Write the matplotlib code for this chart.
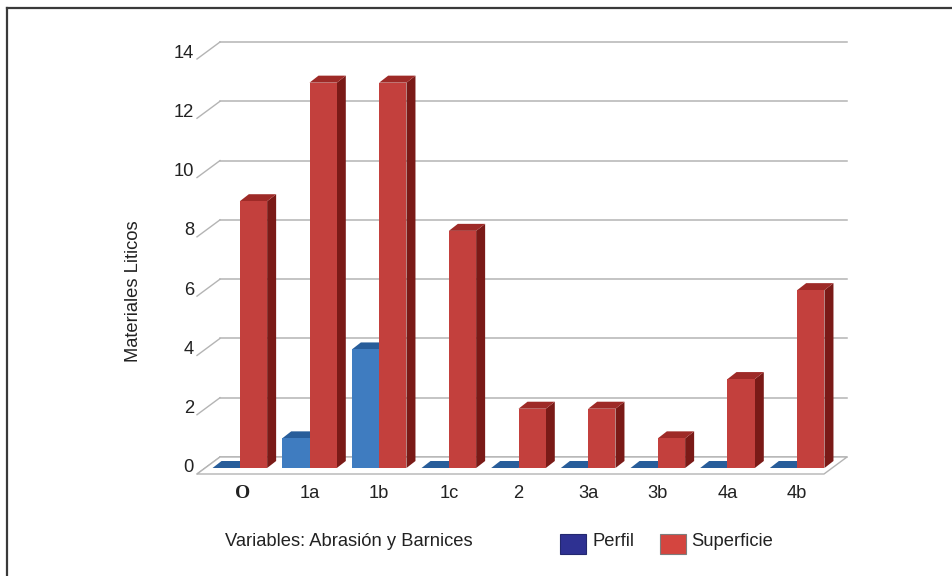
import matplotlib
matplotlib.use("Agg")
import matplotlib.pyplot as plt
from matplotlib.patches import Polygon, Rectangle
from matplotlib.lines import Line2D
from matplotlib.transforms import offset_copy

# ---- data ----
categories = ["O", "1a", "1b", "1c", "2", "3a", "3b", "4a", "4b"]
perfil = [0, 1, 4, 0, 0, 0, 0, 0, 0]
superficie = [9, 13, 13, 8, 2, 2, 1, 3, 6]
yticks = [0, 2, 4, 6, 8, 10, 12, 14]

# ---- figure geometry (pixels) ----
W, H = 952, 576
fig = plt.figure(figsize=(W / 100, H / 100), dpi=100)
fig.patch.set_facecolor("white")

ax_l, ax_r, ax_b, ax_t = 197, 824, 474, 59   # front plane of chart in px
ax = fig.add_axes([ax_l / W, 1 - ax_b / H, (ax_r - ax_l) / W, (ax_b - ax_t) / H])
ax.set_xlim(-0.5, len(categories) - 0.5)
ax.set_ylim(0, 14)
ax.axis("off")

PXX = (ax_r - ax_l) / len(categories)   # px per x unit
PXY = (ax_b - ax_t) / 14.0              # px per y unit

WALL_DX, WALL_DY = 23 / PXX, 17 / PXY
BAR_OX, BAR_OY = 8 / PXX, 6 / PXY
BAR_DX, BAR_DY = 9 / PXX, 7 / PXY
BW = 27.3 / PXX

grid_c = "#b4b4b4"
x0, x1 = -0.5, len(categories) - 0.5

# back wall gridlines + left diagonals
for v in yticks:
    ax.plot([x0 + WALL_DX, x1 + WALL_DX], [v + WALL_DY, v + WALL_DY],
            color=grid_c, lw=1.1, clip_on=False, zorder=1)
    ax.plot([x0, x0 + WALL_DX], [v, v + WALL_DY], color=grid_c, lw=1.0,
            clip_on=False, zorder=1)
# floor
ax.add_patch(Polygon([[x0, 0], [x1, 0], [x1 + WALL_DX, WALL_DY], [x0 + WALL_DX, WALL_DY]],
                     closed=True, facecolor="white", edgecolor=grid_c, lw=1.0,
                     clip_on=False, zorder=1.5))

styles = {
    "perfil": dict(front="#3f7cc0", top="#285d9a", side="#2a5890"),
    "superficie": dict(front="#c3403d", top="#9e2a27", side="#7a1a17"),
}

z = 2
for i, c in enumerate(categories):
    for key, vals, start in (("perfil", perfil, i - BW), ("superficie", superficie, i)):
        st = styles[key]
        v = vals[i]
        xl = start + BAR_OX
        xr = xl + BW
        b = BAR_OY
        t = BAR_OY + v
        # side face
        ax.add_patch(Polygon([[xr, b], [xr + BAR_DX, b + BAR_DY], [xr + BAR_DX, t + BAR_DY], [xr, t]],
                             closed=True, facecolor=st["side"], edgecolor="none",
                             clip_on=False, zorder=z))
        # top face
        ax.add_patch(Polygon([[xl, t], [xr, t], [xr + BAR_DX, t + BAR_DY], [xl + BAR_DX, t + BAR_DY]],
                             closed=True, facecolor=st["top"], edgecolor="none",
                             clip_on=False, zorder=z))
        # front face
        if v > 0:
            bars = ax.bar([xl], [v], width=BW, bottom=b, align="edge",
                          color=st["front"], edgecolor="none", zorder=z + 0.5)
            for p in bars:
                p.set_clip_on(False)
        z += 1

# y tick labels
tr_y = offset_copy(ax.transData, fig=fig, x=-3, y=6, units="dots")
for v in yticks:
    ax.text(x0, v, str(v), transform=tr_y, ha="right", va="center",
            fontsize=13.2, family="Liberation Sans", color="#222222")

# category labels
tr_x = offset_copy(ax.transData, fig=fig, x=0, y=-19, units="dots")
for i, c in enumerate(categories):
    if c == "O":
        ax.text(i + BAR_OX + 3 / PXX, 0, c, transform=tr_x, ha="center", va="center",
                fontsize=14, family="Liberation Serif", fontweight="bold", color="#222222")
    else:
        ax.text(i + BAR_OX, 0, c, transform=tr_x, ha="center", va="center",
                fontsize=13.2, family="Liberation Sans", color="#222222")

# axis title
fig.text(133 / W, 1 - 291 / H, "Materiales Liticos", rotation=90, ha="center", va="center",
         fontsize=13.2, family="Liberation Sans", color="#222222")

# bottom caption
fig.text(225 / W, 1 - 541 / H, "Variables: Abrasión y Barnices", ha="left", va="center",
         fontsize=13.2, family="Liberation Sans", color="#222222")

# legend (manual)
leg = [("Perfil", "#2e3192", "#23286f", 560, 592), ("Superficie", "#d4453f", "#7d7d7d", 660, 691)]
for name, fc, ec, sx, tx in leg:
    fig.patches.append(Rectangle((sx / W, 1 - 554 / H), 26 / W, 20 / H, transform=fig.transFigure,
                                 facecolor=fc, edgecolor=ec, lw=0.8, figure=fig))
    fig.text(tx / W, 1 - 542 / H, name, ha="left", va="center",
             fontsize=13.2, family="Liberation Sans", color="#222222")

# partial frame (top and left)
fig.lines.append(Line2D([7 / W, 1.0], [1 - 8 / H, 1 - 8 / H], transform=fig.transFigure,
                        color="#3a3a3a", lw=1.6, figure=fig))
fig.lines.append(Line2D([7 / W, 7 / W], [0.0, 1 - 8 / H], transform=fig.transFigure,
                        color="#3a3a3a", lw=1.6, figure=fig))

fig.savefig("out.png", dpi=100, facecolor="white")
